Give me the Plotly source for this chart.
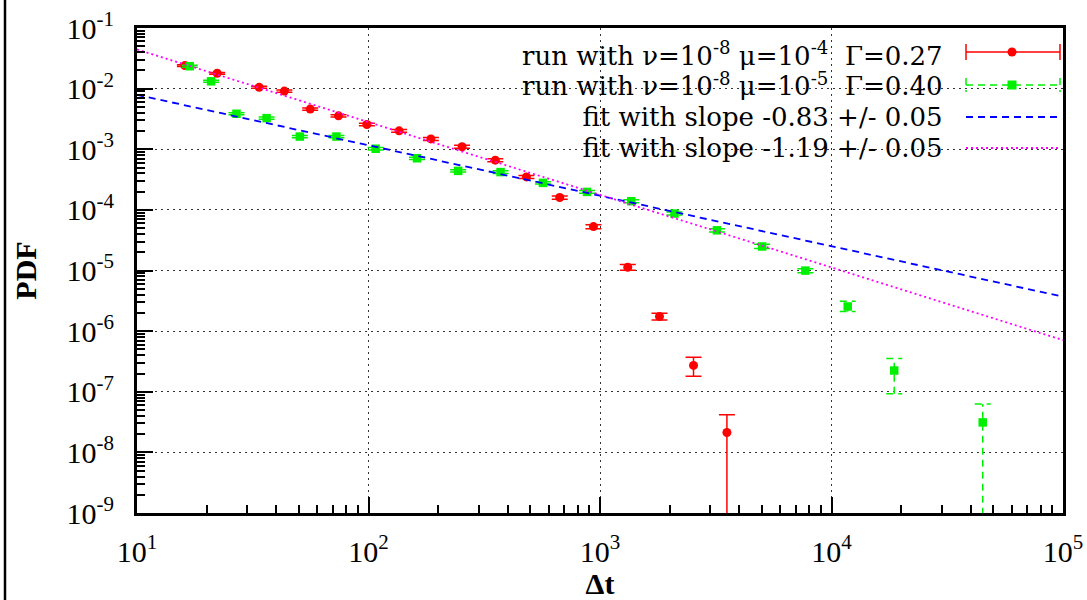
import plotly.graph_objects as go

# ---------------- data ----------------
red_x = [16.1, 22.2, 33.7, 43.3, 56, 74.2, 98.4, 135.6, 186, 253.6, 353, 481, 670, 937, 1318, 1807, 2535, 3534]
red_y = [0.024, 0.0179, 0.0105, 0.0091, 0.0046, 0.00356, 0.00256, 0.00201, 0.00148, 0.0011,
         6.6e-4, 3.5e-4, 1.6e-4, 5.3e-5, 1.13e-5, 1.74e-6, 2.72e-7, 2.13e-8]
red_lo = [0.0232, 0.0173, 0.0101, 0.0087, 0.0044, 0.0034, 0.00244, 0.00191, 0.00140, 0.00104,
          6.2e-4, 3.3e-4, 1.5e-4, 4.9e-5, 1.01e-5, 1.52e-6, 1.8e-7, 1e-12]
red_hi = [0.0248, 0.0185, 0.0109, 0.0095, 0.0048, 0.00372, 0.00268, 0.00211, 0.00156, 0.00116,
          7.0e-4, 3.7e-4, 1.7e-4, 5.7e-5, 1.26e-5, 1.98e-6, 3.7e-7, 4.19e-8]

green_x = [16.9, 20.9, 26.9, 36.3, 50.5, 72.7, 107.4, 162, 244, 372, 567, 879, 1364, 2098,
           3200, 5016, 7711, 11750, 18660, 45000]
green_y = [0.0234, 0.0132, 0.00385, 0.00326, 0.00162, 0.00162, 0.00102, 7.1e-4, 4.4e-4, 4.2e-4,
           2.79e-4, 1.98e-4, 1.39e-4, 8.7e-5, 4.6e-5, 2.49e-5, 9.96e-6, 2.55e-6, 2.24e-7, 3.12e-8]
green_lo = [0.0226, 0.0127, 0.0037, 0.00313, 0.00155, 0.00155, 0.00097, 6.8e-4, 4.2e-4, 4.0e-4,
            2.66e-4, 1.88e-4, 1.31e-4, 8.2e-5, 4.3e-5, 2.3e-5, 9.2e-6, 2.1e-6, 9.3e-8, 1e-12]
green_hi = [0.0242, 0.0137, 0.0040, 0.00339, 0.00169, 0.00169, 0.00107, 7.4e-4, 4.6e-4, 4.4e-4,
            2.92e-4, 2.08e-4, 1.47e-4, 9.2e-5, 4.9e-5, 2.7e-5, 1.07e-5, 3.1e-6, 3.55e-7, 6.3e-8]

fit_x = [10, 100000]
fit_blue_y = [0.0079, 3.7e-6]       # slope -0.83
fit_magenta_y = [0.0443, 7.1e-7]    # slope -1.19

legend_labels = [
    "run with ν=10<sup>-8</sup> μ=10<sup>-4</sup>\u00a0 Γ=0.27",
    "run with ν=10<sup>-8</sup> μ=10<sup>-5</sup>\u00a0 Γ=0.40",
    "fit with slope -0.83 +/- 0.05",
    "fit with slope -1.19 +/- 0.05",
]

x_tick_vals = [10, 100, 1000, 10000, 100000]
x_tick_text = ["10<sup>1</sup>", "10<sup>2</sup>", "10<sup>3</sup>", "10<sup>4</sup>", "10<sup>5</sup>"]
y_tick_vals = [1e-9, 1e-8, 1e-7, 1e-6, 1e-5, 1e-4, 1e-3, 1e-2, 1e-1]
y_tick_text = ["10<sup>-9</sup>", "10<sup>-8</sup>", "10<sup>-7</sup>", "10<sup>-6</sup>",
               "10<sup>-5</sup>", "10<sup>-4</sup>", "10<sup>-3</sup>", "10<sup>-2</sup>", "10<sup>-1</sup>"]

# ---------------- styling / layout constants ----------------
W, H = 1087, 600
ML, MR, MT, MB = 137, 24, 28, 87
PW, PH = W - ML - MR, H - MT - MB
FONT = "Liberation Serif, Times New Roman, serif"
LEG_FONT = "DejaVu Serif, serif"
RED, GREEN, BLUE, MAGENTA = "#ff0000", "#00f000", "#0000ff", "#ff00ff"
CAP_PX = 8
DECADE_PX = PW / 4.0
cap_f = 10 ** (CAP_PX / DECADE_PX)
LEG_LINE_FONT = 23.5    # sets the line pitch (1.3 * size ~ 30.5 px)
LEG_TEXT_SIZE = 26      # actual glyph size


def px_x(p):
    return (p - ML) / PW


def px_y(p):
    return 1 - (p - MT) / PH


fig = go.Figure()

# red series with solid error bars
fig.add_trace(go.Scatter(
    x=red_x, y=red_y, mode="markers",
    marker=dict(symbol="circle", size=9, color=RED),
    error_y=dict(type="data", symmetric=False,
                 array=[h - y for h, y in zip(red_hi, red_y)],
                 arrayminus=[y - l for l, y in zip(red_lo, red_y)],
                 color=RED, thickness=1.5, width=CAP_PX),
    showlegend=False))

# green series error bars (dashed) built from data arrays
ex, ey = [], []
for x, lo, hi in zip(green_x, green_lo, green_hi):
    ex += [x, x, None, x / cap_f, x * cap_f, None, x / cap_f, x * cap_f, None]
    ey += [lo, hi, None, hi, hi, None, lo, lo, None]
fig.add_trace(go.Scatter(x=ex, y=ey, mode="lines",
                         line=dict(color=GREEN, width=1.5, dash="7px,5px"),
                         showlegend=False, hoverinfo="skip"))
fig.add_trace(go.Scatter(
    x=green_x, y=green_y, mode="markers",
    marker=dict(symbol="square", size=8.5, color=GREEN),
    showlegend=False))

# fit lines
fig.add_trace(go.Scatter(x=fit_x, y=fit_blue_y, mode="lines",
                         line=dict(color=BLUE, width=1.8, dash="7px,5px"), showlegend=False))
fig.add_trace(go.Scatter(x=fit_x, y=fit_magenta_y, mode="lines",
                         line=dict(color=MAGENTA, width=1.8, dash="2px,3px"), showlegend=False))

# ---------------- custom legend (text right-aligned, key on the right) ----------------
text_right_px = 945
key_l, key_r, key_c = 966, 1060, 1012
legend_text = "<br>".join(
    '<span style="font-size:%gpx">%s</span>' % (LEG_TEXT_SIZE, lab) for lab in legend_labels)
fig.add_annotation(x=px_x(text_right_px), y=px_y(100), xref="paper", yref="paper",
                   text=legend_text, showarrow=False, xanchor="right", yanchor="middle",
                   align="right",
                   font=dict(family=LEG_FONT, size=LEG_LINE_FONT, color="black"))

shapes = []
# red key
ry = 52
shapes += [
    dict(type="line", x0=px_x(key_l), x1=px_x(key_r), y0=px_y(ry), y1=px_y(ry), line=dict(color=RED, width=1.5)),
    dict(type="line", x0=px_x(key_l), x1=px_x(key_l), y0=px_y(ry - 8), y1=px_y(ry + 8), line=dict(color=RED, width=1.5)),
    dict(type="line", x0=px_x(key_r), x1=px_x(key_r), y0=px_y(ry - 8), y1=px_y(ry + 8), line=dict(color=RED, width=1.5)),
    dict(type="circle", x0=px_x(key_c - 4.5), x1=px_x(key_c + 4.5), y0=px_y(ry - 4.5), y1=px_y(ry + 4.5),
         fillcolor=RED, line=dict(color=RED, width=0)),
]
# green key
gy = 85
shapes += [
    dict(type="line", x0=px_x(key_l), x1=px_x(key_r), y0=px_y(gy), y1=px_y(gy), line=dict(color=GREEN, width=1.5, dash="7px,5px")),
    dict(type="line", x0=px_x(key_l), x1=px_x(key_l), y0=px_y(gy - 7), y1=px_y(gy + 7), line=dict(color=GREEN, width=1.5, dash="7px,5px")),
    dict(type="line", x0=px_x(key_r), x1=px_x(key_r), y0=px_y(gy - 7), y1=px_y(gy + 7), line=dict(color=GREEN, width=1.5, dash="7px,5px")),
    dict(type="rect", x0=px_x(key_c - 4.5), x1=px_x(key_c + 4.5), y0=px_y(gy - 4.5), y1=px_y(gy + 4.5),
         fillcolor=GREEN, line=dict(color=GREEN, width=0)),
]
# fit keys
shapes += [
    dict(type="line", x0=px_x(key_l), x1=px_x(key_r), y0=px_y(117), y1=px_y(117),
         line=dict(color=BLUE, width=1.8, dash="7px,5px")),
    dict(type="line", x0=px_x(key_l), x1=px_x(key_r), y0=px_y(148), y1=px_y(148),
         line=dict(color=MAGENTA, width=1.8, dash="2px,3px")),
]
# outer left border line of the picture
shapes.append(dict(type="line", xref="paper", yref="paper", x0=px_x(5), x1=px_x(5), y0=-0.3, y1=1.2,
                   line=dict(color="black", width=2.5)))
for s in shapes:
    s.setdefault("xref", "paper")
    s.setdefault("yref", "paper")
fig.update_layout(shapes=shapes)

axis_common = dict(
    type="log", showline=True, linecolor="black", linewidth=3, mirror=True,
    ticks="inside", ticklen=16, tickwidth=2, tickcolor="black",
    showgrid=True, gridcolor="#333333", gridwidth=1.4, griddash="2px,4px",
    zeroline=False, tickmode="array",
    tickfont=dict(family=FONT, size=30, color="black"),
    minor=dict(ticks="inside", ticklen=8, tickwidth=1.5, tickcolor="black", dtick="D1", showgrid=False),
)

fig.update_xaxes(**axis_common, range=[1, 5], tickvals=x_tick_vals, ticktext=x_tick_text,
                 ticklabelstandoff=10,
                 title=dict(text="<b>Δt</b>", font=dict(family=FONT, size=30, color="black"), standoff=2))
fig.update_yaxes(**axis_common, range=[-9, -1], tickvals=y_tick_vals, ticktext=y_tick_text,
                 ticklabelstandoff=14,
                 title=dict(text="<b>PDF</b>", font=dict(family=FONT, size=30, color="black"), standoff=22))

fig.update_layout(
    width=W, height=H,
    margin=dict(l=ML, r=MR, t=MT, b=MB, autoexpand=False),
    paper_bgcolor="white", plot_bgcolor="white",
    showlegend=False,
    font=dict(family=FONT, color="black"),
)

fig.write_html("out.html")
